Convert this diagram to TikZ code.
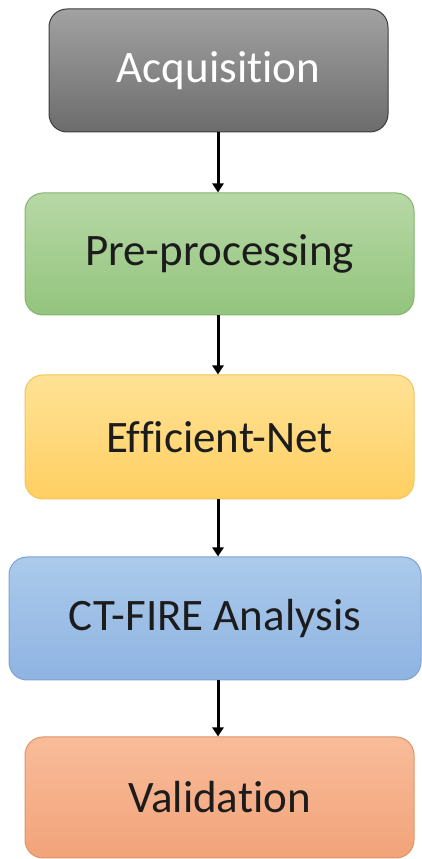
\documentclass[tikz,border=0pt]{standalone}
\usepackage{fontspec}
\setmainfont[Ligatures={NoCommon}]{Carlito}
\usetikzlibrary{arrows.meta}
\definecolor{grayT}{HTML}{A2A2A2}
\definecolor{grayB}{HTML}{6C6C6C}
\definecolor{grayD}{HTML}{3C3C3C}
\definecolor{greenT}{HTML}{B7D8A6}
\definecolor{greenB}{HTML}{93C47D}
\definecolor{greenD}{HTML}{84B46E}
\definecolor{yelT}{HTML}{FFE296}
\definecolor{yelB}{HTML}{FFCF62}
\definecolor{yelD}{HTML}{F2C456}
\definecolor{bluT}{HTML}{ABCAEB}
\definecolor{bluB}{HTML}{8FB4E2}
\definecolor{bluD}{HTML}{7CA3D4}
\definecolor{orT}{HTML}{F8BC9A}
\definecolor{orB}{HTML}{F2A379}
\definecolor{orD}{HTML}{DE9468}
\definecolor{txt}{HTML}{1C1C1C}
\tikzset{
  stagebox/.style={rounded corners=18pt, line width=1pt, inner sep=0pt,
    font=\fontsize{45}{50}\selectfont, text=txt},
  flowarrow/.style={line width=3pt, -{Triangle[width=11pt,length=9pt]}}
}
\begin{document}
\begin{tikzpicture}[x=1pt,y=1pt]
\useasboundingbox[fill=white] (0,0) rectangle (422,859);
\node[stagebox, draw=grayD, top color=grayT, bottom color=grayB, text=white,
  minimum width=339pt, minimum height=123pt] (acq) at (218.5,788.5) {Acquisition};
\node[stagebox, draw=greenD, top color=greenT, bottom color=greenB,
  minimum width=389pt, minimum height=122pt] (pre) at (219.5,605) {Pre-processing};
\node[stagebox, draw=yelD, top color=yelT, bottom color=yelB,
  minimum width=389pt, minimum height=124pt] (eff) at (219.5,422) {Efficient-Net};
\node[stagebox, draw=bluD, top color=bluT, bottom color=bluB,
  minimum width=412pt, minimum height=123pt] (ct) at (215,240.5) {CT-FIRE Analysis};
\node[stagebox, draw=orD, top color=orT, bottom color=orB,
  minimum width=389pt, minimum height=121pt] (val) at (219.5,61.5) {Validation};
\coordinate (axis) at (218,0);
\draw[flowarrow] (acq.south -| axis) -- (pre.north -| axis);
\draw[flowarrow] (pre.south -| axis) -- (eff.north -| axis);
\draw[flowarrow] (eff.south -| axis) -- (ct.north -| axis);
\draw[flowarrow] (ct.south -| axis) -- (val.north -| axis);
\end{tikzpicture}
\end{document}
